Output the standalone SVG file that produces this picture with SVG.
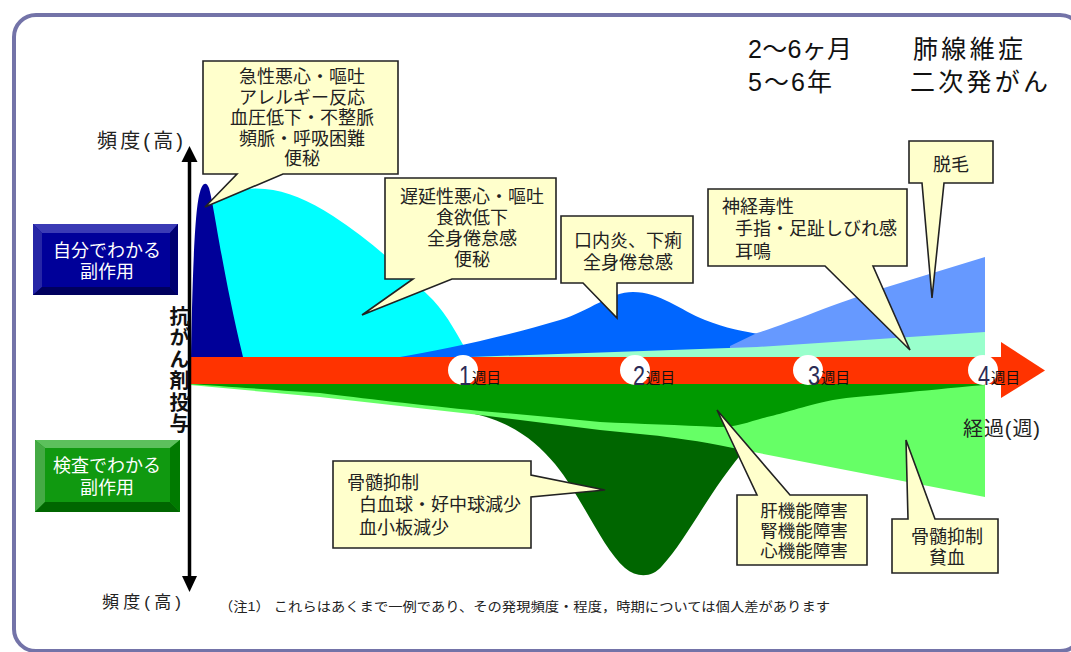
<svg xmlns="http://www.w3.org/2000/svg" width="1071" height="652" viewBox="0 0 1071 652" xml:lang="ja">
<style>
text{font-family:"Liberation Sans","Noto Sans CJK JP",sans-serif;fill:#222}
.co{fill:#FFFFCC;stroke:#222;stroke-width:1.6;stroke-linejoin:miter}
.ct{font-size:18px;text-anchor:middle}
.cl{font-size:18px}
.wk{font-size:28px;fill:#2b2b55}
.wj{font-size:14.5px;fill:#111}
.big{font-size:25px;fill:#111}
.lbl{font-size:18px;fill:#fff;text-anchor:middle}
.vt{font-size:20px;font-weight:bold;fill:#111;writing-mode:vertical-rl;letter-spacing:1.5px}
</style>
<rect x="0" y="0" width="1071" height="652" fill="#fff"/>
<rect id="frame" x="14" y="15" width="1068" height="636" rx="22" fill="#fff" stroke="#7373a8" stroke-width="4"/>

<g id="upper-areas">
<path id="cyan" d="M200,357 L212,205 C228,190 248,187 265,189 C287,191 308,200 333,216 C370,240 405,272 433,300 C448,316 458,336 470,357 Z" fill="#00FFFF"/>
<path id="navy" d="M191,357 C192,300 194,210 200,192 C202,184 206,180 209,188 C214,205 222,270 243,357 Z" fill="#000099"/>
<path id="blue" d="M400,357 C440,350 500,338 560,320 C590,311 610,292 633,292 C660,292 680,310 705,320 C725,328 745,332 760,334 L790,357 Z" fill="#0066FF"/>
<path id="lightblue" d="M730,357 L730,346 L757,333 C790,323 830,305 887,287 L985,257 L985,357 Z" fill="#6699FF"/>
<path id="mint" d="M470,357 L757,347 L985,332 L985,357 Z" fill="#99FFCC"/>
</g>

<g id="lower-areas">
<path id="darkgreen" d="M470,413 C510,421 535,440 555,464 C582,497 602,548 625,568 C637,578 652,578 662,566 C688,538 708,492 748,446 L700,425 Z" fill="#006600"/>
<path id="lightgreen" d="M190,384 L985,384 L985,497 L733,448 C700,441 670,437 650,435 L600,430 L480,415 L320,397 L190,385 Z" fill="#66FF66"/>
<path id="green" d="M190,384 L985,384 L985,385 C950,388 920,391 900,393 C870,396 850,397 833,400 C800,407 785,413 767,417 C748,422 735,428 717,427 C680,425 640,424 600,422 C560,418 520,414 480,411 C420,405 360,398 320,393 C260,389 220,386 190,384 Z" fill="#009900"/>
</g>

<g id="timeline">
<rect x="190" y="357" width="812" height="27" fill="#FF3300"/>
<polygon points="1001,342 1045,370.5 1001,398" fill="#FF3300"/>
<g id="week1"><circle cx="463" cy="370" r="15" fill="#fff"/><text class="wk" x="459" y="385" textLength="12" lengthAdjust="spacingAndGlyphs">1</text><text class="wj" x="472" y="383">週目</text></g>
<g id="week2"><circle cx="635" cy="370" r="15" fill="#fff"/><text class="wk" x="633" y="385" textLength="12" lengthAdjust="spacingAndGlyphs">2</text><text class="wj" x="646" y="383">週目</text></g>
<g id="week3"><circle cx="808" cy="370" r="15" fill="#fff"/><text class="wk" x="808" y="385" textLength="12" lengthAdjust="spacingAndGlyphs">3</text><text class="wj" x="821" y="383">週目</text></g>
<g id="week4"><circle cx="983" cy="370" r="15" fill="#fff"/><text class="wk" x="978" y="385" textLength="12" lengthAdjust="spacingAndGlyphs">4</text><text class="wj" x="991" y="383">週目</text></g>
<text id="elapsed" x="963" y="436" style="font-size:20px" textLength="77" lengthAdjust="spacing">経過(週)</text>
</g>

<g id="connectors">
<line x1="189.5" y1="158" x2="189.5" y2="580" stroke="#000" stroke-width="3.5"/>
<polygon points="189.5,146 181.5,162 197.5,162" fill="#000"/>
<polygon points="189.5,592 182,576 197,576" fill="#000"/>
</g>

<g id="axis-labels">
<text x="97" y="148" style="font-size:20px" textLength="86" lengthAdjust="spacing">頻度(高)</text>
<text x="102" y="608" style="font-size:17px" textLength="79" lengthAdjust="spacing">頻度(高)</text>
<text id="vertical-label" class="vt" x="178" y="306">抗がん剤投与</text>
</g>

<g id="self-aware">
<rect x="33" y="224" width="145" height="71" fill="#000099"/>
<polygon points="33,224 178,224 170,233 42,233" fill="#3b3bb5"/>
<polygon points="33,224 42,233 42,287 33,295" fill="#2626a6"/>
<polygon points="33,295 42,287 170,287 178,295" fill="#00005e"/>
<polygon points="178,224 178,295 170,287 170,233" fill="#000070"/>
<text class="lbl" x="107" y="257">自分でわかる<tspan x="107" dy="21">副作用</tspan></text>
</g>

<g id="test-aware">
<rect x="35" y="440" width="145" height="72" fill="#109910"/>
<polygon points="35,440 180,440 170,448 45,448" fill="#5cc05c"/>
<polygon points="35,440 45,448 45,502 35,512" fill="#44aa44"/>
<polygon points="35,512 45,502 170,502 180,512" fill="#006600"/>
<polygon points="180,440 180,512 170,502 170,448" fill="#007a00"/>
<text class="lbl" x="107" y="472">検査でわかる<tspan x="107" dy="22">副作用</tspan></text>
</g>

<g id="late-effects">
<text class="big" x="748" y="58" textLength="104" lengthAdjust="spacing">2〜6ヶ月</text>
<text class="big" x="748" y="91" textLength="84" lengthAdjust="spacing">5〜6年</text>
<text class="big" x="913" y="58" textLength="110" lengthAdjust="spacing">肺線維症</text>
<text class="big" x="910" y="91" textLength="138" lengthAdjust="spacing">二次発がん</text>
</g>

<g id="callout-acute">
<path class="co" d="M203,61 H398 V174 H283 L205,207 L237,174 H203 Z"/>
<text class="ct" x="302" y="83">急性悪心・嘔吐<tspan x="302" dy="20.5">アレルギー反応</tspan><tspan x="302" dy="20.5">血圧低下・不整脈</tspan><tspan x="302" dy="20.5">頻脈・呼吸困難</tspan><tspan x="302" dy="20.5">便秘</tspan></text>
</g>

<g id="callout-delayed">
<path class="co" d="M385,178 H556 V279 H452 L362,315 L413,279 H385 Z"/>
<text class="ct" x="472" y="203">遅延性悪心・嘔吐<tspan x="472" dy="21">食欲低下</tspan><tspan x="472" dy="21">全身倦怠感</tspan><tspan x="472" dy="21">便秘</tspan></text>
</g>

<g id="callout-stomatitis">
<path class="co" d="M561,216 H693 V283 H617 L617,318 L583,283 H561 Z"/>
<text class="ct" x="628" y="247">口内炎、下痢<tspan x="628" dy="22">全身倦怠感</tspan></text>
</g>

<g id="callout-neuro">
<path class="co" d="M708,189 H907 V266 H873 L910,350 L825,266 H708 Z"/>
<text class="cl" x="722" y="213">神経毒性<tspan x="735" dy="22">手指・足趾しびれ感</tspan><tspan x="735" dy="23">耳鳴</tspan></text>
</g>

<g id="callout-hair">
<path class="co" d="M909,141 H993 V183 H944 L932,298 L922,183 H909 Z"/>
<text class="ct" x="951" y="171">脱毛</text>
</g>

<g id="callout-marrow1">
<path class="co" d="M333,461 H531 V475 L605,490 L531,497 V548 H333 Z"/>
<text class="cl" x="347" y="489">骨髄抑制<tspan x="359" dy="22">白血球・好中球減少</tspan><tspan x="359" dy="23">血小板減少</tspan></text>
</g>

<g id="callout-organ">
<path class="co" d="M737,495 H757 L717,410 L790,495 H867 V565 H737 Z"/>
<text class="ct" x="804" y="517" style="font-size:17.5px">肝機能障害<tspan x="804" dy="20">腎機能障害</tspan><tspan x="804" dy="20">心機能障害</tspan></text>
</g>

<g id="callout-marrow2">
<path class="co" d="M892,519 H908 L906,440 L935,519 H998 V573 H892 Z"/>
<text class="ct" x="947" y="543">骨髄抑制<tspan x="947" dy="21">貧血</tspan></text>
</g>

<text id="note" x="219" y="611" style="font-size:13px" textLength="611" lengthAdjust="spacingAndGlyphs">（注1） これらはあくまで一例であり、その発現頻度・程度，時期については個人差があります</text>
</svg>
